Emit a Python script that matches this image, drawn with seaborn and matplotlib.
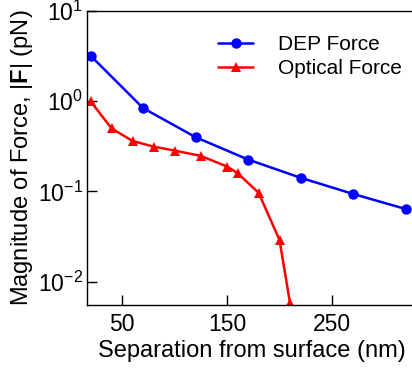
import numpy as np
import pandas as pd
import matplotlib
matplotlib.use('Agg')
import matplotlib.pyplot as plt
import matplotlib.ticker as mticker
import seaborn as sns

# DEP force (pN) vs separation (nm)
dep_sep = [20, 70, 120, 170, 220, 270, 320]
dep_force = [3.2, 0.84, 0.40, 0.226, 0.142, 0.094, 0.064]

# Optical force (pN) vs separation (nm)
opt_sep = [20, 40, 60, 80, 100, 125, 150, 160, 180, 200, 210]
opt_force = [1.0, 0.50, 0.363, 0.314, 0.284, 0.248, 0.189, 0.16, 0.097, 0.029, 0.0058]

x_ticks = [50, 150, 250]
y_ticks = [1e-2, 1e-1, 1e0, 1e1]

dep = pd.DataFrame({'sep': dep_sep, 'force': dep_force})
opt = pd.DataFrame({'sep': opt_sep, 'force': opt_force})

sns.set_style('ticks')
plt.rcParams['font.family'] = ['Liberation Sans', 'DejaVu Sans']
plt.rcParams['mathtext.fontset'] = 'custom'
plt.rcParams['mathtext.rm'] = 'Liberation Sans'
plt.rcParams['mathtext.it'] = 'Liberation Sans:italic'
plt.rcParams['mathtext.bf'] = 'Liberation Sans:bold'
plt.rcParams['text.color'] = 'black'
plt.rcParams['axes.labelcolor'] = 'black'
plt.rcParams['xtick.color'] = 'black'
plt.rcParams['ytick.color'] = 'black'

W, H = 412, 380
fig = plt.figure(figsize=(W / 100, H / 100), dpi=100)
left, right, top, bottom = 87.3, 416, 11, 305
ax = fig.add_axes([left / W, 1 - bottom / H, (right - left) / W, (bottom - top) / H])

sns.lineplot(data=dep, x='sep', y='force', ax=ax, color='#0000ff', lw=1.8,
             marker='o', markersize=7.5, markeredgewidth=0, label='DEP Force')
sns.lineplot(data=opt, x='sep', y='force', ax=ax, color='#ff0000', lw=1.8,
             marker='^', markersize=6.5, markeredgewidth=0, label='Optical Force')

ax.set_yscale('log')
ax.set_xlim(16.9, 330)
ax.set_ylim(10 ** -2.258, 10)
ax.set_xticks(x_ticks)
ax.set_yticks(y_ticks)
ax.yaxis.set_major_formatter(mticker.LogFormatterSciNotation())
ax.yaxis.set_minor_locator(mticker.NullLocator())
ax.xaxis.set_minor_locator(mticker.NullLocator())
ax.tick_params(direction='in', length=7, width=1, labelsize=16.5)
ax.tick_params(axis='x', pad=6)
ax.tick_params(axis='y', pad=3)

ax.set_xlabel('Separation from surface (nm)', fontsize=17, labelpad=3)
ax.set_ylabel(r'Magnitude of Force, |$\mathbf{F}$| (pN)', fontsize=17, labelpad=2)

for s in ax.spines.values():
    s.set_linewidth(1.0)
    s.set_color('black')

ax.legend(loc='upper left', bbox_to_anchor=(218 / W, 1 - 35 / H),
          bbox_transform=fig.transFigure, frameon=False, fontsize=15,
          handlelength=1.7, handletextpad=1.2, borderpad=0, borderaxespad=0,
          labelspacing=0.25)

fig.savefig('out.png', dpi=100)
